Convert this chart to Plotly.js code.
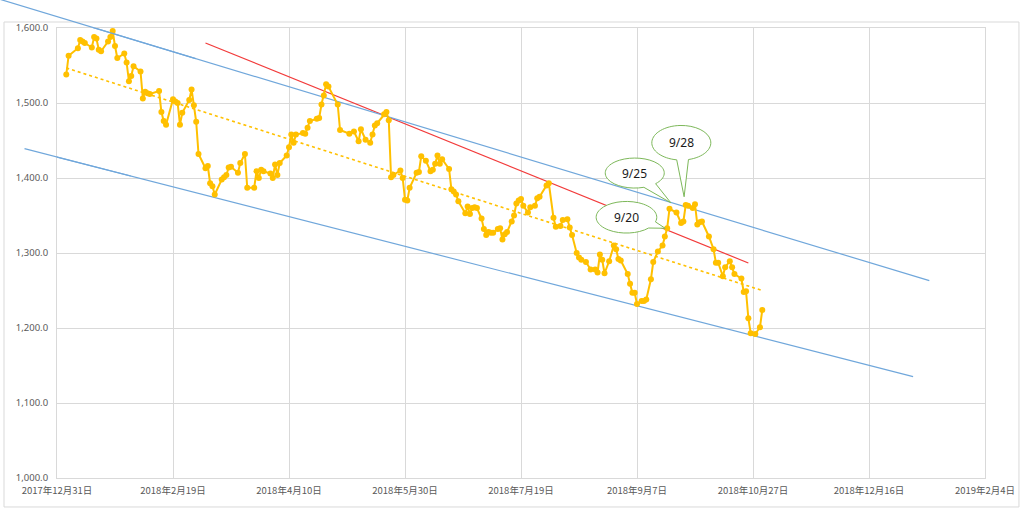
<!DOCTYPE html>
<html><head><meta charset="utf-8">
<script src="https://cdn.plot.ly/plotly-3.0.1.min.js"></script>
<style>html,body{margin:0;padding:0;background:#fff}#chart{width:1024px;height:509px}</style>
</head><body><div id="chart"></div>
<script>
// ---- data ----
const dates = [
'2018-01-04','2018-01-05','2018-01-09','2018-01-10','2018-01-11','2018-01-12','2018-01-15','2018-01-16','2018-01-17','2018-01-18',
'2018-01-19','2018-01-22','2018-01-23','2018-01-24','2018-01-25','2018-01-26','2018-01-29','2018-01-30','2018-01-31','2018-02-01',
'2018-02-02','2018-02-05','2018-02-06','2018-02-07','2018-02-08','2018-02-09','2018-02-13','2018-02-14','2018-02-15','2018-02-16',
'2018-02-19','2018-02-20','2018-02-21','2018-02-22','2018-02-23','2018-02-26','2018-02-27','2018-02-28','2018-03-01','2018-03-02',
'2018-03-05','2018-03-06','2018-03-07','2018-03-08','2018-03-09','2018-03-12','2018-03-13','2018-03-14','2018-03-15','2018-03-16',
'2018-03-19','2018-03-20','2018-03-22','2018-03-23','2018-03-26','2018-03-27','2018-03-28','2018-03-29','2018-03-30','2018-04-02',
'2018-04-03','2018-04-04','2018-04-05','2018-04-06','2018-04-09','2018-04-10','2018-04-11','2018-04-12','2018-04-13','2018-04-16',
'2018-04-17','2018-04-18','2018-04-19','2018-04-22','2018-04-23','2018-04-24','2018-04-25','2018-04-26','2018-04-27','2018-05-01',
'2018-05-02','2018-05-06','2018-05-08','2018-05-10','2018-05-11','2018-05-13','2018-05-15','2018-05-16','2018-05-17','2018-05-18',
'2018-05-21','2018-05-22','2018-05-23','2018-05-24','2018-05-25','2018-05-28','2018-05-29','2018-05-30','2018-05-31','2018-06-01',
'2018-06-04','2018-06-05','2018-06-06','2018-06-08','2018-06-10','2018-06-11','2018-06-12','2018-06-13','2018-06-14','2018-06-15',
'2018-06-18','2018-06-19','2018-06-20','2018-06-21','2018-06-22','2018-06-25','2018-06-26','2018-06-27','2018-06-28','2018-06-29',
'2018-06-30','2018-07-02','2018-07-03','2018-07-04','2018-07-05','2018-07-06','2018-07-07','2018-07-09','2018-07-10','2018-07-11',
'2018-07-12','2018-07-13','2018-07-15','2018-07-16','2018-07-17','2018-07-18','2018-07-19','2018-07-20','2018-07-22','2018-07-23',
'2018-07-25','2018-07-26','2018-07-27','2018-07-30','2018-07-31','2018-08-02','2018-08-03','2018-08-05','2018-08-06','2018-08-08',
'2018-08-09','2018-08-10','2018-08-12','2018-08-13','2018-08-14','2018-08-16','2018-08-18','2018-08-20','2018-08-21','2018-08-22',
'2018-08-23','2018-08-24','2018-08-26','2018-08-28','2018-08-29','2018-08-30','2018-08-31','2018-09-03','2018-09-04','2018-09-05',
'2018-09-06','2018-09-07','2018-09-09','2018-09-10','2018-09-11','2018-09-13','2018-09-14','2018-09-16','2018-09-18','2018-09-19',
'2018-09-20','2018-09-21','2018-09-24','2018-09-26','2018-09-27','2018-09-28','2018-09-29','2018-10-01','2018-10-02','2018-10-03',
'2018-10-04','2018-10-05','2018-10-08','2018-10-10','2018-10-11','2018-10-12','2018-10-14','2018-10-15','2018-10-17','2018-10-18',
'2018-10-19','2018-10-22','2018-10-23','2018-10-24','2018-10-25','2018-10-26','2018-10-28','2018-10-30','2018-10-31'
];
const prices = [
1538,1563,1573,1584,1582,1580,1574,1588,1586,1571,
1569,1582,1588,1596,1576,1560,1566,1554,1529,1536,
1549,1542,1506,1515,1513,1512,1516,1488,1476,1471,
1505,1502,1500,1471,1487,1504,1518,1497,1475,1432,
1413,1416,1393,1389,1378,1398,1401,1404,1414,1415,
1407,1420,1432,1387,1387,1409,1400,1411,1409,1406,
1400,1418,1404,1420,1430,1441,1458,1447,1458,1460,
1459,1467,1476,1479,1480,1498,1510,1525,1522,1498,
1464,1459,1462,1449,1465,1451,1447,1458,1470,1473,
1485,1488,1477,1401,1404,1410,1400,1371,1370,1387,
1407,1408,1429,1423,1409,1411,1419,1430,1419,1425,
1412,1385,1382,1378,1369,1353,1362,1352,1360,1361,
1360,1346,1332,1324,1328,1327,1327,1332,1333,1318,
1325,1328,1342,1350,1366,1370,1372,1363,1354,1361,
1363,1373,1375,1390,1393,1347,1335,1336,1344,1345,
1334,1324,1300,1294,1291,1288,1278,1278,1274,1298,
1291,1273,1289,1310,1305,1292,1290,1272,1259,1247,
1247,1232,1236,1236,1238,1265,1288,1302,1310,1322,
1333,1359,1354,1340,1342,1364,1363,1360,1365,1338,
1341,1342,1322,1305,1287,1287,1269,1281,1289,1281,
1272,1266,1248,1249,1213,1193,1192,1201,1224
];
// dotted trend line (end points)
const trendDates = ['2018-01-04', '2018-10-31'];
const trendValues = [1546.7, 1250.0];
// blue channel lines: start, a point on the line, end
const upperChannelDates = ['2017-12-04', '2018-03-01', '2019-01-11'];
const upperChannelValues = [1640.5, 1559.0, 1263.1];
const lowerChannelDates = ['2017-12-17', '2018-02-01', '2019-01-04'];
const lowerChannelValues = [1439.1, 1402.5, 1135.1];
// red line
const redLineDates = ['2018-03-05', '2018-10-25'];
const redLineValues = [1580.0, 1286.7];
// callouts
const calloutLabels = ['9/20', '9/25', '9/28'];
const calloutDates = ['2018-09-20', '2018-09-25', '2018-09-28'];
const calloutValues = [1333, 1367, 1375];
// axis ticks
const xTickVals = ['2017-12-31','2018-02-19','2018-04-10','2018-05-30','2018-07-19','2018-09-07','2018-10-27','2018-12-16','2019-02-04'];
const xTickText = ['2017年12月31日','2018年2月19日','2018年4月10日','2018年5月30日','2018年7月19日','2018年9月7日','2018年10月27日','2018年12月16日','2019年2月4日'];

// ---- styles / geometry (pixels) ----
const GOLD = '#FFC000', BLUE = '#70A7DB', RED = '#F23B3B', GREEN = '#7DB85A', GRID = '#D9D9D9';
const calloutGeom = [
  {dx: -2,   cx: -38.7, cy: 11,   rx: 30.3, ry: 15.8, a1: -17, a2: -43},
  {dx: -8,   cx: -36,   cy: 29.7, rx: 29.5, ry: 15,   a1: -45, a2: -72},
  {dx: -1.6, cx: -2.8,  cy: 54,   rx: 29.5, ry: 17.3, a1: -76, a2: -99}
];

function bubblePath(g) {
  const tx = g.dx, ty = 0;
  const cx = g.dx + g.cx, cy = g.cy;
  const t1 = g.a1 * Math.PI / 180, t2 = (g.a2 + 360) * Math.PI / 180;
  const n = Math.ceil((t2 - t1) / (Math.PI / 2));
  const step = (t2 - t1) / n;
  const k = 4 / 3 * Math.tan(step / 4);
  const E = t => [cx + g.rx * Math.cos(t), cy + g.ry * Math.sin(t)];
  const D = t => [-g.rx * Math.sin(t), g.ry * Math.cos(t)];
  const f = v => v.toFixed(2);
  const s = E(t1);
  let p = 'M' + f(tx) + ',' + f(ty) + ' L' + f(s[0]) + ',' + f(s[1]);
  for (let i = 0; i < n; i++) {
    const a = t1 + i * step, b = a + step;
    const P0 = E(a), d0 = D(a), P3 = E(b), d3 = D(b);
    p += ' C' + f(P0[0] + k * d0[0]) + ',' + f(P0[1] + k * d0[1]) + ' ' +
         f(P3[0] - k * d3[0]) + ',' + f(P3[1] - k * d3[1]) + ' ' + f(P3[0]) + ',' + f(P3[1]);
  }
  p += ' Z';
  return p;
}

const traces = [
  {x: trendDates, y: trendValues, type: 'scatter', mode: 'lines',
   line: {color: GOLD, width: 1.6, dash: 'dot'}, hoverinfo: 'skip'},
  {x: dates, y: prices, type: 'scatter', mode: 'lines+markers',
   line: {color: GOLD, width: 2}, marker: {color: GOLD, size: 6}, hoverinfo: 'skip'}
];

const shapes = [
  {type: 'line', xref: 'x', yref: 'y', layer: 'between',
   x0: redLineDates[0], y0: redLineValues[0], x1: redLineDates[1], y1: redLineValues[1],
   line: {color: RED, width: 1.2}},
  {type: 'line', xref: 'x', yref: 'y', layer: 'between',
   x0: upperChannelDates[0], y0: upperChannelValues[0], x1: upperChannelDates[2], y1: upperChannelValues[2],
   line: {color: BLUE, width: 1.2}},
  {type: 'line', xref: 'x', yref: 'y', layer: 'between',
   x0: lowerChannelDates[0], y0: lowerChannelValues[0], x1: lowerChannelDates[2], y1: lowerChannelValues[2],
   line: {color: BLUE, width: 1.2}},
  {type: 'rect', xref: 'paper', yref: 'paper', x0: -0.0571, x1: 1.0366, y0: -0.0644, y1: 1.0133,
   line: {color: GRID, width: 1}, fillcolor: 'rgba(0,0,0,0)', layer: 'below'}
];
calloutLabels.forEach((lab, i) => {
  shapes.push({type: 'path', xref: 'x', yref: 'y', layer: 'above',
    xsizemode: 'pixel', ysizemode: 'pixel', xanchor: calloutDates[i], yanchor: calloutValues[i],
    path: bubblePath(calloutGeom[i]), fillcolor: '#FFFFFF', line: {color: GREEN, width: 1}});
});

const annotations = [
  // outer parts of the channel lines (reach beyond the plotting area)
  {xref: 'x', yref: 'y', axref: 'x', ayref: 'y',
   x: upperChannelDates[0], y: upperChannelValues[0], ax: upperChannelDates[1], ay: upperChannelValues[1],
   text: '', showarrow: true, arrowhead: 0, arrowwidth: 1.2, arrowcolor: BLUE, standoff: 0, startstandoff: 0,
   font: {size: 1}, borderpad: 0},
  {xref: 'x', yref: 'y', axref: 'x', ayref: 'y',
   x: lowerChannelDates[0], y: lowerChannelValues[0], ax: lowerChannelDates[1], ay: lowerChannelValues[1],
   text: '', showarrow: true, arrowhead: 0, arrowwidth: 1.2, arrowcolor: BLUE, standoff: 0, startstandoff: 0,
   font: {size: 1}, borderpad: 0}
];
calloutLabels.forEach((lab, i) => {
  const g = calloutGeom[i];
  annotations.push({xref: 'x', yref: 'y', x: calloutDates[i], y: calloutValues[i],
    xshift: g.dx + g.cx, yshift: g.cy, text: lab, showarrow: false,
    font: {family: 'Noto Sans, Liberation Sans, sans-serif', size: 12, color: '#1a1a1a'}});
});

const layout = {
  width: 1024, height: 509,
  margin: {l: 57, r: 39, t: 28, b: 31, pad: 0},
  paper_bgcolor: '#FFFFFF', plot_bgcolor: '#FFFFFF',
  showlegend: false, hovermode: false,
  xaxis: {type: 'date', range: ['2017-12-31', '2019-02-04'], tickmode: 'array',
    tickvals: xTickVals, ticktext: xTickText, showgrid: true, gridcolor: GRID, gridwidth: 1,
    showline: true, linecolor: GRID, linewidth: 1, mirror: true, zeroline: false, ticks: '',
    ticklabelstandoff: 4,
    tickfont: {family: 'Noto Sans CJK JP, Noto Sans, sans-serif', size: 9.5, color: '#595959'}},
  yaxis: {range: [1000, 1600], tick0: 1000, dtick: 100, tickformat: ',.1f',
    showgrid: true, gridcolor: GRID, gridwidth: 1, showline: true, linecolor: GRID, linewidth: 1,
    mirror: true, zeroline: false, ticks: '', ticklabelstandoff: 6,
    tickfont: {family: 'Noto Sans, Liberation Sans, sans-serif', size: 9.5, color: '#595959'}},
  shapes: shapes,
  annotations: annotations
};

Plotly.newPlot('chart', traces, layout, {displayModeBar: false, staticPlot: true});
</script>
</body></html>
